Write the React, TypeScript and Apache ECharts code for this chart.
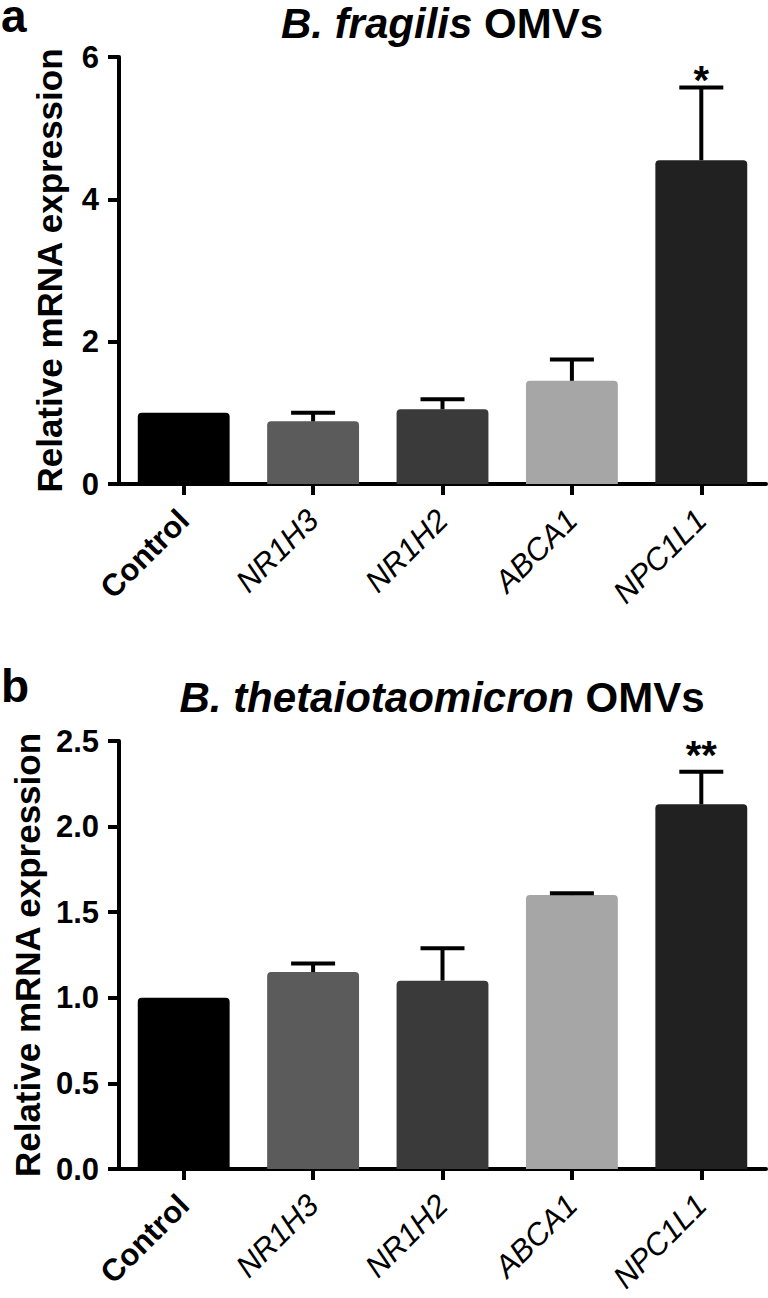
import React, { useEffect, useRef } from "react";
import * as echarts from "echarts";

// ---------- data ----------
const categories = ["Control", "NR1H3", "NR1H2", "ABCA1", "NPC1L1"];
const barColors = ["#000000", "#5b5b5b", "#3a3a3a", "#a6a6a6", "#212121"];

const fragilisTitle = "B. fragilis";
const fragilisMean = [1.0, 0.88, 1.05, 1.45, 4.55];
const fragilisErr = [0, 0.12, 0.14, 0.3, 1.02];
const fragilisSig = ["", "", "", "", "*"];
const fragilisTicks = { min: 0, max: 6, interval: 2 };

const thetaTitle = "B. thetaiotaomicron";
const thetaMean = [1.0, 1.15, 1.1, 1.6, 2.13];
const thetaErr = [0, 0.05, 0.19, 0.01, 0.19];
const thetaSig = ["", "", "", "", "**"];
const thetaTicks = { min: 0, max: 2.5, interval: 0.5 };

const yName = "Relative mRNA expression";
const titleSuffix = "OMVs";
const panelLetters = ["a", "b"];

// ---------- styles ----------
const FONT = "'Liberation Sans', Arial, Helvetica, sans-serif";
const W = 768;
const H = 1298;
const GRID_LEFT = 119;
const GRID_RIGHT = 2;
const panels = [
  { top: 57, height: 427, titleY: 23, letterY: 16, starOffset: 8, decimals: 0 },
  { top: 741, height: 428, titleY: 697, letterY: 686, starOffset: 17, decimals: 1 },
];

function App() {
  const ref = useRef<HTMLDivElement>(null);

  useEffect(() => {
    if (!ref.current) return;
    const chart = echarts.init(ref.current, null, { renderer: "svg" });

    const dataSets = [
      { mean: fragilisMean, err: fragilisErr, sig: fragilisSig, ticks: fragilisTicks, title: fragilisTitle },
      { mean: thetaMean, err: thetaErr, sig: thetaSig, ticks: thetaTicks, title: thetaTitle },
    ];

    const grids: any[] = [];
    const xAxes: any[] = [];
    const yAxes: any[] = [];
    const series: any[] = [];
    const graphics: any[] = [];

    dataSets.forEach((ds, p) => {
      const pl = panels[p];
      grids.push({ left: GRID_LEFT, right: GRID_RIGHT, top: pl.top, height: pl.height, containLabel: false });
      xAxes.push({
        type: "category",
        gridIndex: p,
        data: categories.map((c, i) => ({
          value: c,
          textStyle: {
            fontWeight: i === 0 ? "bold" : "normal",
            fontStyle: i === 0 ? "normal" : "italic",
          },
        })),
        boundaryGap: true,
        axisLine: { show: true, onZero: true, lineStyle: { color: "#000", width: 4 } },
        axisTick: { show: true, alignWithLabel: true, length: 11, lineStyle: { color: "#000", width: 4 } },
        axisLabel: {
          rotate: 45,
          margin: 31,
          color: "#000",
          fontSize: 31,
          fontFamily: FONT,
          interval: 0,
        },
        splitLine: { show: false },
      });
      yAxes.push({
        type: "value",
        gridIndex: p,
        min: ds.ticks.min,
        max: ds.ticks.max,
        interval: ds.ticks.interval,
        name: yName,
        nameLocation: "middle",
        nameRotate: 90,
        nameGap: 52,
        nameTextStyle: { color: "#000", fontSize: 35, fontWeight: "bold", fontFamily: FONT },
        axisLine: { show: true, lineStyle: { color: "#000", width: 4 } },
        axisTick: { show: true, length: 11, lineStyle: { color: "#000", width: 4 } },
        axisLabel: {
          margin: 20,
          color: "#000",
          fontSize: 31,
          fontWeight: "bold",
          fontFamily: FONT,
          formatter: (v: number) => v.toFixed(pl.decimals),
        },
        splitLine: { show: false },
      });
      series.push({
        type: "bar",
        xAxisIndex: p,
        yAxisIndex: p,
        barWidth: "71%",
        data: ds.mean.map((v, i) => ({
          value: v,
          itemStyle: { color: barColors[i], borderRadius: [4, 4, 0, 0] },
        })),
        z: 2,
      });
      series.push({
        type: "custom",
        xAxisIndex: p,
        yAxisIndex: p,
        z: 5,
        encode: { x: 0, y: 1 },
        data: ds.mean.map((m, i) => [i, m, ds.err[i], i]),
        renderItem: (params: any, api: any) => {
          const i = api.value(0);
          const m = api.value(1);
          const e = api.value(2);
          const idx = api.value(3);
          const base = api.coord([i, m]);
          const top = api.coord([i, m + e]);
          const band = api.size([1, 0])[0];
          const half = band * 0.17;
          const children: any[] = [];
          if (e > 0) {
            children.push({
              type: "line",
              shape: { x1: base[0], y1: base[1], x2: top[0], y2: top[1] },
              style: { stroke: "#000", lineWidth: 4 },
            });
            children.push({
              type: "line",
              shape: { x1: top[0] - half, y1: top[1], x2: top[0] + half, y2: top[1] },
              style: { stroke: "#000", lineWidth: 4 },
            });
          }
          const s = ds.sig[idx];
          if (s) {
            children.push({
              type: "text",
              x: top[0],
              y: top[1] - pl.starOffset,
              style: {
                text: s,
                fill: "#000",
                font: `bold 40px ${FONT}`,
                align: "center",
                verticalAlign: "middle",
              },
            });
          }
          return { type: "group", children };
        },
      });

      graphics.push({
        type: "text",
        x: 442,
        y: pl.titleY,
        style: {
          text: `{i|${ds.title}\u00a0}{n|${titleSuffix}}`,
          align: "center",
          verticalAlign: "middle",
          rich: {
            i: { font: `italic bold 42px ${FONT}`, fill: "#000", lineHeight: 40 },
            n: { font: `bold 42px ${FONT}`, fill: "#000", lineHeight: 40 },
          },
        },
      });
      graphics.push({
        type: "text",
        x: 1,
        y: pl.letterY,
        style: {
          text: panelLetters[p],
          font: `bold 46px ${FONT}`,
          lineHeight: 30,
          fill: "#000",
          align: "left",
          verticalAlign: "middle",
        },
      });
    });

    chart.setOption({
      animation: false,
      backgroundColor: "#fff",
      grid: grids,
      xAxis: xAxes,
      yAxis: yAxes,
      series,
      graphic: graphics,
    });

    return () => chart.dispose();
  }, []);

  return (
    <div
      ref={ref}
      style={{ position: "absolute", left: 0, top: 0, width: W, height: H, background: "#fff" }}
    />
  );
}

export default App;
